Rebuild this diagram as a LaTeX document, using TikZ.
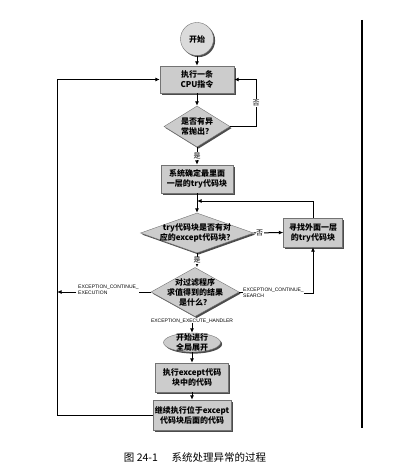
\documentclass[tikz,border=0pt]{standalone}
\usepackage{fontspec}
\newfontfamily\cjk{Noto Sans CJK SC}
\newfontfamily\lab{Liberation Sans}
\usetikzlibrary{shapes.geometric,shadows,arrows.meta}
\tikzset{
  fl/.style={line width=1pt, draw=black},
  arr/.style={fl, -{Latex[length=4.5pt,width=4pt]}},
  shd/.style={drop shadow={shadow xshift=1.6pt, shadow yshift=-1.6pt, fill=black!70, opacity=1}},
  boxst/.style={rectangle, draw=black!55, line width=0.4pt, fill=black!20, shd, inner sep=0pt,
    align=center, font=\cjk\bfseries\fontsize{8}{10}\selectfont},
  diast/.style={diamond, draw=black!55, line width=0.4pt, fill=black!20, shd, inner sep=0pt},
  ellst/.style={ellipse, draw=black!55, line width=0.4pt, fill=black!20, shd, inner sep=0pt},
  txt/.style={align=center, inner sep=0pt, font=\cjk\bfseries\fontsize{8}{10}\selectfont},
  yn/.style={fill=white, inner sep=0.6pt, font=\cjk\fontsize{7}{8}\selectfont},
  exc/.style={align=left, inner sep=0pt, font=\lab\fontsize{5}{6}\selectfont},
}
\begin{document}
\begin{tikzpicture}[x=1pt,y=-1pt]
\useasboundingbox (0,0) rectangle (400,473);
% page border line
\draw[line width=1.2pt] (362,20) -- (362,428);

\node[circle, draw=black!55, line width=0.4pt, fill=black!14, shd, minimum size=33pt, inner sep=0pt,
      font=\cjk\bfseries\fontsize{8}{10}\selectfont] (start) at (197,39) {开始};
\node[boxst, minimum width=74pt, minimum height=27pt] (box1) at (197,79.5) {执行一条\\CPU指令};
\node[diast, minimum width=66pt, minimum height=41pt, label={[txt]center:是否有异\\常抛出？}] (d1) at (197,126.5) {};
\node[boxst, minimum width=72pt, minimum height=28pt] (box2) at (197,179) {系统确定最里面\\一层的try代码块};
\node[diast, minimum width=113pt, minimum height=40pt, label={[txt]center:try代码块是否有对\\应的except代码块？}] (d2) at (197,233) {};
\node[boxst, minimum width=59pt, minimum height=29pt] (box3) at (313,232.5) {寻找外面一层\\的try代码块};
\node[diast, minimum width=88pt, minimum height=49pt, label={[txt]center:对过滤程序\\求值得到的结果\\是什么？}] (d3) at (195,292) {};
\node[exc, anchor=west] (lexec) at (78,290) {EXCEPTION\_CONTINUE\_\\EXECUTION};
\node[exc, anchor=west] (lsearch) at (243,293) {EXCEPTION\_CONTINUE\_\\SEARCH};
\node[exc, align=center] (lhand) at (192,321) {EXCEPTION\_EXECUTE\_HANDLER};
\node[ellst, minimum width=57pt, minimum height=19pt, label={[txt]center:开始进行\\全局展开}] (ell) at (192,342.5) {};
\node[boxst, minimum width=73pt, minimum height=29pt] (box4) at (192,377.5) {执行except代码\\块中的代码};
\node[boxst, minimum width=78pt, minimum height=30pt] (box5) at (192,415) {继续执行位于except\\代码块后面的代码};

\node[inner sep=0pt, font=\cjk\fontsize{10.5}{12}\selectfont] (cap) at (195,457) {图 24-1\hspace{1.3em}系统处理异常的过程};

\coordinate (J) at (197,201);
\coordinate (L1) at (57,415);
\coordinate (L2) at (57,79.5);

\draw[arr] (start) -- (box1);
\draw[arr] (box1) -- (d1);
\draw[arr] (d1.east) -- (256,126.5) -- node[yn]{否} (256,79.5) -- (box1.east);
\draw[arr] (d1.south) -- node[yn]{是} (box2.north);
\draw[arr] (box2) -- (d2);
\draw[arr] (d2.east) -- node[yn, pos=0.2]{否} (box3.west);
\draw[arr] (box3.north) |- (J);
\draw[arr] (d2.south) -- node[yn]{是} (d2.south |- d3.north);
\draw[fl] (d3.west) -- (d3.west -| lexec.east);
\draw[arr] ([xshift=-2pt]lexec.west |- d3.west) -- (d3.west -| L1);
\draw[fl] (d3.east) -- (d3.east -| lsearch.west);
\draw[arr] (lsearch.east) -| (box3.south);
\draw[arr] (lhand.south) -- (ell.north);
\draw[arr] (ell) -- (box4);
\draw[arr] (box4) -- (box5);
\draw[arr] (box5.west) -- (L1) -- (L2) -- (box1.west);
\end{tikzpicture}
\end{document}
